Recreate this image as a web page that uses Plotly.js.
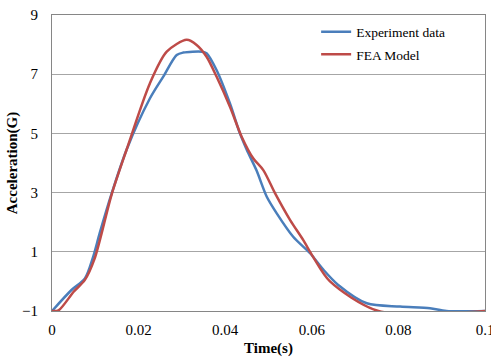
<!DOCTYPE html>
<html>
<head>
<meta charset="utf-8">
<script src="https://cdn.plot.ly/plotly-3.0.1.min.js"></script>
<style>html,body{margin:0;padding:0;background:#fff;}#chart{width:491px;height:359px;}</style>
</head>
<body>
<div id="chart"></div>
<script>
var expTime = [0, 0.0045, 0.0076, 0.0095, 0.011, 0.0138, 0.0172, 0.0226, 0.0257, 0.0288, 0.0303, 0.0346, 0.0357, 0.038, 0.0411, 0.0434, 0.045, 0.0472, 0.0496, 0.0519, 0.0557, 0.0596, 0.0627, 0.0661, 0.0727, 0.0804, 0.0873, 0.0911, 0.1];
var expAcc  = [-1, -0.29, 0.10, 0.83, 1.62, 2.98, 4.44, 6.18, 6.92, 7.65, 7.73, 7.76, 7.71, 7.14, 6.01, 5.0, 4.44, 3.76, 2.86, 2.30, 1.51, 0.95, 0.39, -0.12, -0.74, -0.85, -0.91, -1, -1];
var feaTime = [0, 0.0015, 0.005, 0.0076, 0.0098, 0.0138, 0.0172, 0.0226, 0.0265, 0.0311, 0.0334, 0.0357, 0.038, 0.0411, 0.0438, 0.0465, 0.0488, 0.0515, 0.055, 0.058, 0.0603, 0.0642, 0.0754, 0.1];
var feaAcc  = [-1, -0.98, -0.35, 0.05, 0.75, 2.95, 4.44, 6.69, 7.76, 8.16, 7.99, 7.59, 6.92, 5.9, 4.89, 4.15, 3.76, 2.98, 2.07, 1.40, 0.83, 0.0, -1, -1];
var xTicks = [0, 0.02, 0.04, 0.06, 0.08, 0.1];
var xTickText = ['0', '0.02', '0.04', '0.06', '0.08', '0.1'];
var yTicks = [-1, 1, 3, 5, 7, 9];

var serif = 'Liberation Serif, Times New Roman, serif';
var traces = [
  {x: expTime, y: expAcc, name: 'Experiment data', legendgroup: 'a', mode: 'lines', line: {color: '#4A7EBB', width: 2.5, shape: 'spline', smoothing: 0.8}},
  {x: feaTime, y: feaAcc, name: 'FEA Model', legendgroup: 'b', mode: 'lines', line: {color: '#BE4B48', width: 2.5, shape: 'spline', smoothing: 0.8}}
];
var layout = {
  width: 491, height: 359,
  margin: {l: 52, r: 6, t: 15, b: 48},
  paper_bgcolor: '#fff', plot_bgcolor: '#fff',
  font: {family: serif, size: 13, color: '#000'},
  showlegend: true,
  legend: {x: 0.61, y: 0.995, xanchor: 'left', yanchor: 'top', bgcolor: 'rgba(0,0,0,0)', font: {family: serif, size: 13.5, color: '#000'}, itemwidth: 30, traceorder: 'grouped', tracegroupgap: 2},
  xaxis: {
    range: [0, 0.1], tickvals: xTicks, ticktext: xTickText, showgrid: false, zeroline: false,
    showline: true, linecolor: '#868686', linewidth: 1, mirror: true, ticks: '', ticklen: 0,
    ticklabeloverflow: 'allow', ticklabelstandoff: 5,
    tickfont: {family: serif, size: 15, color: '#000'},
    title: {text: '<b>Time(s)</b>', font: {family: serif, size: 15, color: '#000'}, standoff: 5}
  },
  yaxis: {
    range: [-1, 9], tickvals: yTicks, showgrid: true, gridcolor: '#A6A6A6', gridwidth: 1, zeroline: false,
    showline: true, linecolor: '#868686', linewidth: 1, mirror: true, ticks: '',
    ticklabelstandoff: 10,
    tickfont: {family: serif, size: 15, color: '#000'},
    title: {text: '<b>Acceleration(G)</b>', font: {family: serif, size: 15, color: '#000'}, standoff: 0}
  }
};
Plotly.newPlot('chart', traces, layout, {displayModeBar: false, staticPlot: true});
</script>
</body>
</html>
